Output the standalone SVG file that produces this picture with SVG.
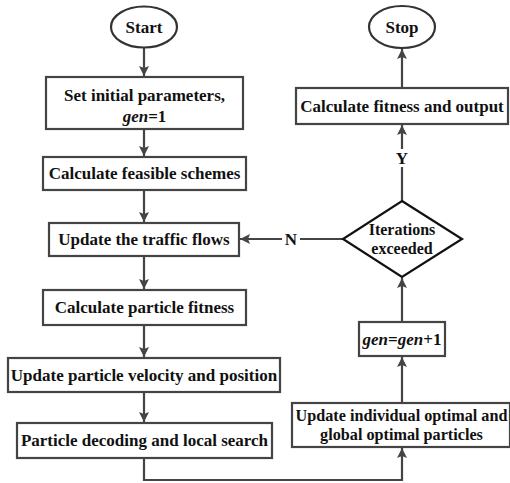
<svg xmlns="http://www.w3.org/2000/svg" width="510" height="483" viewBox="0 0 510 483">
<defs>
<marker id="ah" viewBox="0 0 10 10" refX="10" refY="5" markerWidth="10" markerHeight="10" markerUnits="userSpaceOnUse" orient="auto">
<path d="M0,0 L10,5 L0,10 L2,5 z" fill="#444"/>
</marker>
</defs>
<style>
.box{fill:#fff;stroke:#444;stroke-width:2.2}
.term{fill:#fff;stroke:#333;stroke-width:2.2}
.dia{fill:#fff;stroke:#111;stroke-width:2.2}
.t{font-family:"Liberation Serif","Times New Roman",serif;font-weight:bold;font-size:17px;fill:#111;text-anchor:middle}
.ln{fill:none;stroke:#444;stroke-width:2.2}
.lab{font-family:"Liberation Serif","Times New Roman",serif;font-weight:bold;font-size:17px;fill:#111;text-anchor:middle}
</style>
<rect width="510" height="483" fill="#fff"/>
<g id="connectors">
<line class="ln" x1="144" y1="48" x2="144" y2="76" marker-end="url(#ah)"/>
<line class="ln" x1="144" y1="129" x2="144" y2="156" marker-end="url(#ah)"/>
<line class="ln" x1="144" y1="190" x2="144" y2="222" marker-end="url(#ah)"/>
<line class="ln" x1="144" y1="256" x2="144" y2="289" marker-end="url(#ah)"/>
<line class="ln" x1="144" y1="325" x2="144" y2="357" marker-end="url(#ah)"/>
<line class="ln" x1="144" y1="392" x2="144" y2="422" marker-end="url(#ah)"/>
<polyline class="ln" points="144,458 144,480 402,480 402,448" marker-end="url(#ah)"/>
<line class="ln" x1="402" y1="403" x2="402" y2="357" marker-end="url(#ah)"/>
<line class="ln" x1="402" y1="322" x2="402" y2="278" marker-end="url(#ah)"/>
<line class="ln" x1="343" y1="239" x2="300" y2="239"/>
<line class="ln" x1="282" y1="239" x2="240" y2="239" marker-end="url(#ah)"/>
<text class="lab" x="291" y="245">N</text>
<line class="ln" x1="402" y1="201" x2="402" y2="167"/>
<line class="ln" x1="402" y1="149" x2="402" y2="125" marker-end="url(#ah)"/>
<text class="lab" x="402" y="164">Y</text>
<line class="ln" x1="402" y1="88" x2="402" y2="49" marker-end="url(#ah)"/>
</g>
<g id="start">
<ellipse class="term" cx="144" cy="27" rx="33" ry="20.5"/>
<text class="t" x="144" y="33">Start</text>
</g>
<g id="set-initial">
<rect class="box" x="46" y="77" width="197" height="52"/>
<text class="t" x="144.5" y="101">Set initial parameters,</text>
<text class="t" x="144.5" y="122"><tspan font-style="italic">gen</tspan>=1</text>
</g>
<g id="feasible">
<rect class="box" x="43" y="157" width="203" height="33"/>
<text class="t" x="144.5" y="179">Calculate feasible schemes</text>
</g>
<g id="traffic">
<rect class="box" x="49" y="223" width="190" height="33"/>
<text class="t" x="144" y="245">Update the traffic flows</text>
</g>
<g id="fitness">
<rect class="box" x="43" y="290" width="203" height="35"/>
<text class="t" x="144.5" y="313">Calculate particle fitness</text>
</g>
<g id="velocity">
<rect class="box" x="8" y="358" width="272" height="34"/>
<text class="t" x="144" y="381">Update particle velocity and position</text>
</g>
<g id="decoding">
<rect class="box" x="17" y="423" width="255" height="35"/>
<text class="t" x="144.5" y="446">Particle decoding and local search</text>
</g>
<g id="update-optimal">
<rect class="box" x="292" y="403" width="218" height="44"/>
<text class="t" x="401.5" y="421" style="font-size:16.2px">Update individual optimal and</text>
<text class="t" x="401.5" y="440" style="font-size:16.2px">global optimal particles</text>
</g>
<g id="gen-inc">
<rect class="box" x="359" y="322" width="86" height="34"/>
<text class="t" x="402" y="345"><tspan font-style="italic">gen</tspan>=<tspan font-style="italic">gen</tspan>+1</text>
</g>
<g id="iterations">
<polygon class="dia" points="402,201 462,239 402,277 343,239"/>
<text class="t" x="402" y="235" style="font-size:16px">Iterations</text>
<text class="t" x="402" y="254" style="font-size:16px">exceeded</text>
</g>
<g id="calc-output">
<rect class="box" x="296" y="88" width="212" height="36"/>
<text class="t" x="402" y="112">Calculate fitness and output</text>
</g>
<g id="stop">
<ellipse class="term" cx="402" cy="27" rx="33" ry="21"/>
<text class="t" x="402" y="33">Stop</text>
</g>
</svg>
